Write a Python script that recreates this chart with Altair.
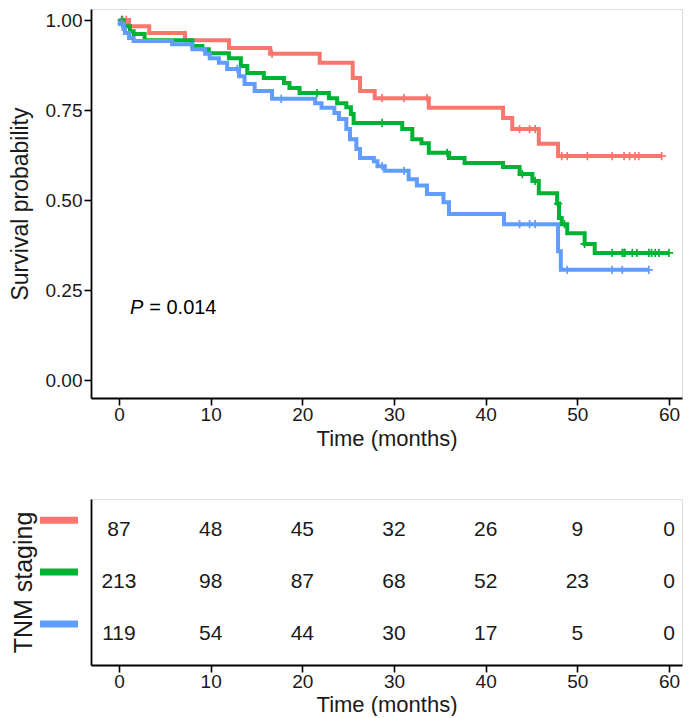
import altair as alt
import numpy as np
import pandas as pd

FONT = "Liberation Sans"

groups = ["Stage I", "Stage II", "Stage III"]
colors = ["#F8766D", "#00B233", "#619CFF"]

# Kaplan-Meier step curves (time in months, survival probability)
red_t = [0, 1.1, 3.3, 7.2, 12.0, 16.5, 21.9, 25.5, 26.3, 27.9, 33.8, 41.9, 42.9, 45.8, 47.9, 59.2]
red_s = [1.0, 0.983, 0.964, 0.944, 0.922, 0.906, 0.881, 0.839, 0.803, 0.783, 0.756, 0.728, 0.697, 0.656, 0.622, 0.622]
red_cens = [0.4, 0.8, 16.7, 28.7, 31.1, 33.6, 43.7, 44.8, 45.4, 48.3, 48.9, 51.1, 53.8, 55.1, 55.7, 56.3, 56.7, 59.2]

green_t = [0, 0.65, 1.2, 1.6, 2.8, 8.0, 9.1, 9.8, 12.0, 13.3, 14.0, 15.8, 18.0, 18.6, 19.7, 22.9, 23.8,
           24.8, 25.3, 25.6, 30.9, 32.0, 33.0, 33.8, 36.0, 37.7, 41.9, 43.7, 45.1, 45.8, 47.8, 48.0, 48.3,
           48.9, 50.8, 51.9, 60.0]
green_s = [1.0, 0.983, 0.969, 0.961, 0.944, 0.928, 0.919, 0.908, 0.894, 0.872, 0.853, 0.839, 0.825, 0.811,
           0.797, 0.783, 0.769, 0.758, 0.739, 0.714, 0.697, 0.669, 0.658, 0.631, 0.617, 0.603, 0.592, 0.572,
           0.553, 0.519, 0.49, 0.45, 0.433, 0.408, 0.378, 0.353, 0.353]
green_cens = [0.3, 21.6, 28.7, 35.8, 44.0, 45.4, 47.9, 48.6, 50.8, 53.8, 54.9, 55.1, 55.2, 56.0, 56.5,
              57.8, 58.1, 58.5, 58.9, 60.0]

blue_t = [0, 0.1, 0.5, 0.65, 1.1, 1.6, 5.8, 8.0, 9.4, 9.9, 10.9, 11.8, 13.1, 13.7, 14.8, 16.7, 21.4, 22.1,
          23.5, 24.0, 24.8, 25.2, 25.9, 26.3, 27.8, 28.2, 29.0, 31.6, 32.5, 33.6, 35.4, 36.0, 42.0, 47.9,
          48.2, 57.8]
blue_s = [1.0, 0.989, 0.975, 0.964, 0.95, 0.942, 0.933, 0.919, 0.906, 0.894, 0.881, 0.864, 0.844, 0.822,
          0.803, 0.781, 0.769, 0.756, 0.742, 0.725, 0.697, 0.669, 0.642, 0.617, 0.608, 0.594, 0.581, 0.558,
          0.54, 0.517, 0.494, 0.461, 0.433, 0.358, 0.306, 0.306]
blue_cens = [0.3, 12.9, 17.7, 28.7, 31.1, 43.7, 44.8, 45.4, 48.9, 53.8, 54.9, 57.8]

# Number at risk table
risk_times = [0, 10, 20, 30, 40, 50, 60]
risk_red = [87, 48, 45, 32, 26, 9, 0]
risk_green = [213, 98, 87, 68, 52, 23, 0]
risk_blue = [119, 54, 44, 30, 17, 5, 0]

p_label = "= 0.014"

# ---- build tables ----
curves = [(red_t, red_s, red_cens), (green_t, green_s, green_cens), (blue_t, blue_s, blue_cens)]
km_rows, cens_rows = [], []
for g, (tt, ss, cc) in zip(groups, curves):
    for t, s in zip(tt, ss):
        km_rows.append({"group": g, "t": t, "s": s})
    tt_a = np.array(tt)
    for c in cc:
        idx = np.searchsorted(tt_a, c, side="right") - 1
        cens_rows.append({"group": g, "t": c, "s": ss[idx]})
km = pd.DataFrame(km_rows)
cens = pd.DataFrame(cens_rows)

risk_rows = []
for g, vals in zip(groups, [risk_red, risk_green, risk_blue]):
    for t, n in zip(risk_times, vals):
        risk_rows.append({"group": g, "t": t, "n": n})
risk = pd.DataFrame(risk_rows)

xscale = alt.Scale(domain=[-3.05, 61.42], nice=False, zero=False)
yscale = alt.Scale(domain=[-0.05, 1.0306], nice=False, zero=False)
color = alt.Color("group:N", scale=alt.Scale(domain=groups, range=colors), legend=None)

axis_common = dict(grid=False, domainColor="black", domainWidth=1.8, tickColor="black", tickWidth=1.6,
                   labelColor="#1a1a1a", labelFontSize=19, labelFont=FONT,
                   titleFont=FONT, titleFontWeight="normal", titleColor="#1a1a1a")

x_axis_top = alt.Axis(values=risk_times, title="Time (months)", labelPadding=0, titlePadding=4,
                      labelFlush=False, tickSize=7, titleFontSize=22, **axis_common)
y_axis_top = alt.Axis(values=[0, 0.25, 0.5, 0.75, 1.0], format=".2f", title="Survival probability",
                      labelPadding=2, titlePadding=13, tickSize=7, titleFontSize=23, **axis_common)

W = 591
lines = alt.Chart(km).mark_line(interpolate="step-after", strokeWidth=4, clip=False).encode(
    x=alt.X("t:Q", scale=xscale, axis=x_axis_top),
    y=alt.Y("s:Q", scale=yscale, axis=y_axis_top),
    color=color,
)
marks = alt.Chart(cens).mark_point(shape="M-1,0L1,0M0,-1L0,1", size=70, strokeWidth=1.7,
                                   filled=False, opacity=1, clip=False).encode(
    x="t:Q", y="s:Q", color=color)

p_df = pd.DataFrame({"t": [1.2], "s": [0.2]})
p_italic = alt.Chart(p_df).mark_text(text="P", fontStyle="italic", fontSize=20, font=FONT,
                                     align="left", baseline="middle", color="black").encode(x="t:Q", y="s:Q")
p_df2 = pd.DataFrame({"t": [3.3], "s": [0.2], "lab": [p_label]})
p_rest = alt.Chart(p_df2).mark_text(fontSize=20, font=FONT, align="left", baseline="middle",
                                    color="black").encode(x="t:Q", y="s:Q", text="lab:N")

top = alt.layer(lines, marks, p_italic, p_rest).properties(width=W, height=389)

yband = alt.Scale(domain=groups, type="point", padding=0.6)
x_axis_bot = alt.Axis(values=risk_times, title="Time (months)", labelPadding=0, titlePadding=3,
                      labelFlush=False, tickSize=7, titleFontSize=22, **axis_common)
y_axis_bot = alt.Axis(labels=False, ticks=False, tickSize=0, title="TNM staging", titlePadding=55,
                      titleFontSize=25, **axis_common)

nums = alt.Chart(risk).mark_text(fontSize=21, font=FONT, color="#1a1a1a", baseline="middle").encode(
    x=alt.X("t:Q", scale=xscale, axis=x_axis_bot),
    y=alt.Y("group:N", scale=yband, axis=y_axis_bot),
    text="n:Q",
)
bars = alt.Chart(pd.DataFrame({"group": groups})).mark_rule(strokeWidth=7, yOffset=-10).encode(
    x=alt.value(-51), x2=alt.value(-13),
    y=alt.Y("group:N", scale=yband),
    color=color,
)
table = alt.layer(nums, bars).properties(width=W, height=166)

chart = alt.vconcat(top, table, spacing=48).properties(
    padding={"left": 0, "top": 0, "right": 0, "bottom": 0}
).configure_view(stroke="transparent").configure(background="white")

chart.save("out.html", embed_options={"renderer": "svg", "actions": False})
